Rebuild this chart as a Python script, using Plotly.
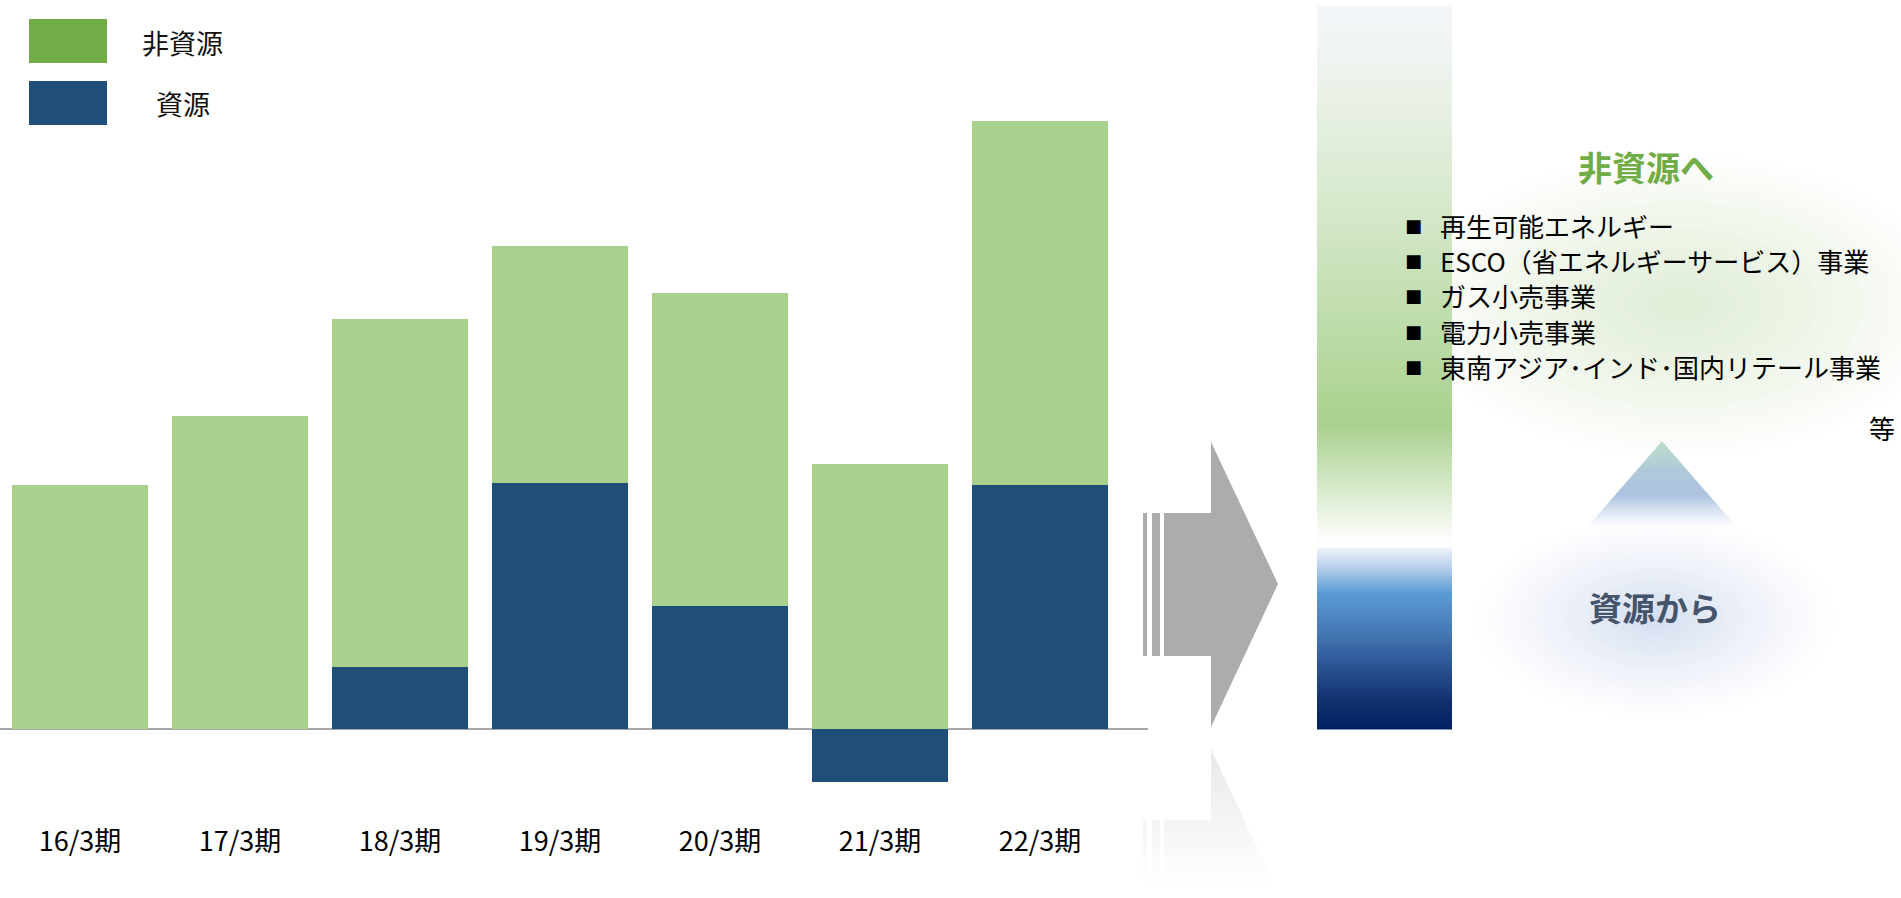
import plotly.graph_objects as go

W, H = 1901, 898

# ---------------- data ----------------
periods = ["16/3期", "17/3期", "18/3期", "19/3期", "20/3期", "21/3期", "22/3期"]
resource = [0, 0, 62, 246, 123, -53, 244]          # 資源
non_resource = [244, 313, 348, 237, 313, 265, 364]  # 非資源
legend_labels = ["非資源", "資源"]
bullet_items = ["再生可能エネルギー", "ESCO（省エネルギーサービス）事業", "ガス小売事業",
                "電力小売事業", "東南アジア・インド・国内リテール事業"]

FONT = "Noto Sans CJK JP"
GREEN_BAR = "#A9D18E"
BLUE_BAR = "#1F4E79"


def px(x):
    return x / W


def py(y):
    return 1 - y / H


def hex2rgb(h):
    h = h.lstrip("#")
    return tuple(int(h[i:i + 2], 16) for i in (0, 2, 4))


def mix(c0, c1, t):
    a, b = hex2rgb(c0), hex2rgb(c1)
    return "rgb(%d,%d,%d)" % tuple(round(a[i] + (b[i] - a[i]) * t) for i in range(3))


def lerp_color(stops, y):
    for (y0, c0), (y1, c1) in zip(stops[:-1], stops[1:]):
        if y0 <= y <= y1:
            t = 0 if y1 == y0 else (y - y0) / (y1 - y0)
            return mix(c0, c1, t)
    return stops[-1][1]


fig = go.Figure()
fig.add_trace(go.Bar(x=periods, y=resource, name="資源", marker=dict(color=BLUE_BAR, line=dict(width=0)),
                     width=0.85, showlegend=False, hoverinfo="skip"))
fig.add_trace(go.Bar(x=periods, y=non_resource, name="非資源", marker=dict(color=GREEN_BAR, line=dict(width=0)),
                     width=0.85, showlegend=False, hoverinfo="skip"))

shapes = []
annotations = []

# ---------- legend ----------
shapes.append(dict(type="rect", xref="paper", yref="paper", x0=px(29), x1=px(107), y0=py(63), y1=py(19),
                   fillcolor="#70AD47", line=dict(width=0)))
shapes.append(dict(type="rect", xref="paper", yref="paper", x0=px(29), x1=px(107), y0=py(125), y1=py(81),
                   fillcolor="#1F4E79", line=dict(width=0)))
annotations.append(dict(xref="paper", yref="paper", x=px(140), y=py(42), text=legend_labels[0], showarrow=False,
                        xanchor="left", yanchor="middle", font=dict(family=FONT, size=27, color="#111")))
annotations.append(dict(xref="paper", yref="paper", x=px(154), y=py(104), text=legend_labels[1], showarrow=False,
                        xanchor="left", yanchor="middle", font=dict(family=FONT, size=27, color="#111")))


# ---------- soft glows: opaque concentric ellipses, white -> centre colour ----------
def glow(cx, cy, rx, ry, centre, n=36, power=1.0):
    for i in range(n):
        s = 1 - i / n
        t = (i / (n - 1)) ** power
        shapes.append(dict(type="circle", xref="paper", yref="paper", x0=px(cx - rx * s), x1=px(cx + rx * s),
                           y0=py(cy + ry * s), y1=py(cy - ry * s), fillcolor=mix("#FFFFFF", centre, t),
                           line=dict(width=0), layer="below"))


glow(1680, 305, 275, 155, "#E0EDD6", power=0.9)
glow(1655, 618, 190, 105, "#D6DFF0", power=1.2)

# ---------- gradient column ----------
col_stops = [(6, "#F4F7FB"), (100, "#E9F1E6"), (200, "#D7E9CD"), (300, "#C3DFB1"), (425, "#A9D18E"),
             (487, "#D5E9C8"), (533, "#FAFCF8"), (547, "#FFFFFF"), (548, "#EEF2FA"), (567, "#B8D0EC"),
             (593, "#5B9BD5"), (633, "#4577B5"), (667, "#2B5394"), (700, "#11326F"), (729, "#002060")]
y = 6
step = 2
while y < 729:
    y2 = min(y + step, 729)
    shapes.append(dict(type="rect", xref="paper", yref="paper", x0=px(1317), x1=px(1452), y0=py(y2 + 0.6),
                       y1=py(y), fillcolor=lerp_color(col_stops, (y + y2) / 2), line=dict(width=0)))
    y = y2

# ---------- triangle with gradient ----------
apex_x, apex_y, base_y, half_base = 1662, 441, 527, 75
tri_stops = [(441, "#BCE0CB"), (470, "#B0C9D8"), (495, "#ADC3E0"), (512, "#DCE6F3"), (527, "#FFFFFF")]
ty = apex_y
while ty < base_y:
    ty2 = min(ty + 3, base_y)
    w0 = half_base * (ty - apex_y) / (base_y - apex_y)
    w1 = half_base * (ty2 - apex_y) / (base_y - apex_y)
    path = "M %f %f L %f %f L %f %f L %f %f Z" % (
        px(apex_x - w0), py(ty), px(apex_x + w0), py(ty), px(apex_x + w1), py(ty2 + 0.5), px(apex_x - w1),
        py(ty2 + 0.5))
    shapes.append(dict(type="path", xref="paper", yref="paper", path=path,
                       fillcolor=lerp_color(tri_stops, (ty + ty2) / 2), line=dict(width=0)))
    ty = ty2


# ---------- arrow ----------
def arrow_path(mirror=None):
    pts_body = [(1164, 513), (1211, 513), (1211, 442), (1278, 584), (1211, 727), (1211, 656), (1164, 656)]
    stripe1 = [(1143, 513), (1147, 513), (1147, 656), (1143, 656)]
    stripe2 = [(1152, 513), (1160, 513), (1160, 656), (1152, 656)]
    out = []
    for poly in (pts_body, stripe1, stripe2):
        pts = [(x, (mirror - yy) if mirror else yy) for x, yy in poly]
        d = "M " + " L ".join("%f %f" % (px(x), py(yy)) for x, yy in pts) + " Z"
        out.append(d)
    return out


for d in arrow_path():
    shapes.append(dict(type="path", xref="paper", yref="paper", path=d, fillcolor="#AEABAB", line=dict(width=0)))
# reflection
for d in arrow_path(mirror=1476):
    shapes.append(dict(type="path", xref="paper", yref="paper", path=d, fillcolor="#D4D4D4", line=dict(width=0)))
ry = 740
while ry < H:
    ry2 = ry + 4
    t = (ry - 740) / (H - 740)
    shapes.append(dict(type="rect", xref="paper", yref="paper", x0=px(1130), x1=px(1290), y0=py(ry2), y1=py(ry),
                       fillcolor="#FFFFFF", opacity=min(1.0, 0.45 + 0.6 * t), line=dict(width=0)))
    ry = ry2

# ---------- right-hand texts ----------
annotations.append(dict(xref="paper", yref="paper", x=px(1646), y=py(166), text="<b>非資源へ</b>", showarrow=False,
                        xanchor="center", yanchor="middle", font=dict(family=FONT, size=34, color="#70AD47")))
line_y = [226, 261, 296, 331, 366]
for item, ly in zip(bullet_items, line_y):
    label = item.replace("・", "･")
    annotations.append(dict(xref="paper", yref="paper", x=px(1413), y=py(ly), text="■", showarrow=False,
                            xanchor="center", yanchor="middle", font=dict(family="DejaVu Sans", size=18, color="#000")))
    annotations.append(dict(xref="paper", yref="paper", x=px(1438), y=py(ly), text=label, showarrow=False,
                            xanchor="left", yanchor="middle", font=dict(family=FONT, size=26, color="#000")))
annotations.append(dict(xref="paper", yref="paper", x=px(1882), y=py(427), text="等", showarrow=False,
                        xanchor="center", yanchor="middle", font=dict(family=FONT, size=26, color="#000")))
annotations.append(dict(xref="paper", yref="paper", x=px(1655), y=py(607), text="<b>資源から</b>", showarrow=False,
                        xanchor="center", yanchor="middle", font=dict(family=FONT, size=33, color="#44546A")))

fig.update_layout(
    width=W, height=H, margin=dict(l=0, r=0, t=0, b=0),
    paper_bgcolor="white", plot_bgcolor="rgba(0,0,0,0)",
    barmode="relative", bargap=0.15,
    shapes=shapes, annotations=annotations,
    showlegend=False,
    xaxis=dict(domain=[0, 1148 / W], range=[-0.5, 6.675], showgrid=False, showline=False, ticks="",
               tickfont=dict(family=FONT, size=27, color="#000"), fixedrange=True),
    yaxis=dict(domain=[1 - 823 / H, 1 - 100 / H], range=[-94, 629], showgrid=False, showline=False,
               showticklabels=False, zeroline=True, zerolinecolor="#A6A6A6", zerolinewidth=2, fixedrange=True),
)

fig.write_html("out.html")
